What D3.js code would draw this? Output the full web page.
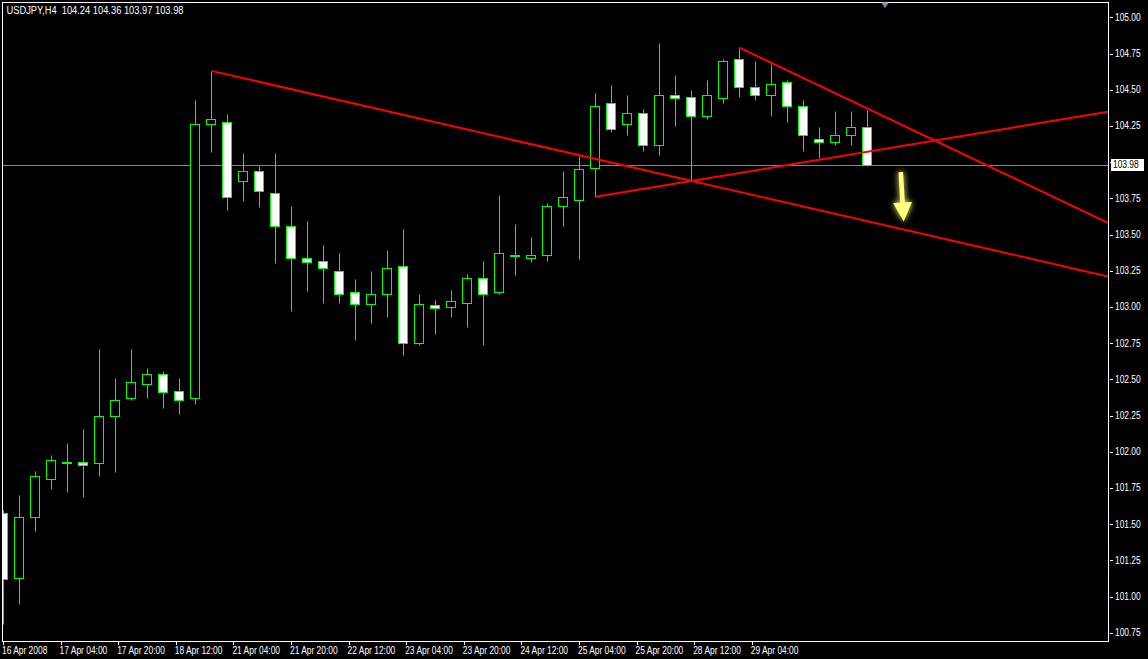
<!DOCTYPE html>
<html><head><meta charset="utf-8">
<script src="https://cdn.jsdelivr.net/npm/d3@7"></script>
<style>
html,body{margin:0;padding:0;background:#000;}
svg{display:block;}
text{font-family:"Liberation Sans","Arial",sans-serif;font-size:10px;fill:#fff;}
</style></head>
<body>
<script>
// ---- data ----
const symbolTitle = "USDJPY,H4  104.24 104.36 103.97 103.98";
const opens  = [101.58,101.13,101.55,101.81,101.93,101.93,101.92,102.25,102.37,102.47,102.54,102.42,102.37,104.26,104.28,103.87,103.94,103.79,103.56,103.34,103.32,103.25,103.10,103.02,103.09,103.28,102.75,103.01,103.00,103.03,103.20,103.10,103.36,103.34,103.36,103.70,103.74,103.96,104.41,104.26,104.34,104.12,104.46,104.45,104.32,104.44,104.71,104.52,104.46,104.55,104.39,104.16,104.14,104.19,104.24];
const highs  = [101.60,101.70,101.87,101.98,102.06,102.16,102.71,102.51,102.71,102.58,102.56,102.51,104.43,104.63,104.33,104.06,103.97,104.06,103.70,103.59,103.43,103.37,103.19,103.25,103.39,103.54,103.09,103.05,103.12,103.23,103.32,103.77,103.57,103.48,103.72,103.94,104.04,104.48,104.53,104.46,104.37,104.82,104.60,104.50,104.57,104.71,104.79,104.70,104.68,104.57,104.43,104.24,104.35,104.35,104.36];
const lows   = [100.81,100.95,101.45,101.74,101.72,101.69,101.83,101.86,102.36,102.37,102.30,102.26,102.33,104.07,103.67,103.73,103.69,103.30,102.97,103.11,103.03,103.03,102.77,102.89,102.93,102.67,102.74,102.81,102.93,102.86,102.74,103.09,103.22,103.31,103.32,103.56,103.33,103.76,104.21,104.19,104.08,104.05,104.25,103.87,104.30,104.41,104.45,104.43,104.32,104.28,104.08,104.03,104.12,104.12,103.97];
const closes = [101.12,101.55,101.83,101.94,101.93,101.91,102.25,102.36,102.48,102.54,102.41,102.36,104.26,104.30,103.76,103.94,103.80,103.56,103.34,103.31,103.27,103.09,103.02,103.09,103.27,102.75,103.02,102.99,103.04,103.20,103.09,103.37,103.36,103.36,103.70,103.76,103.95,104.39,104.23,104.34,104.12,104.46,104.44,104.32,104.46,104.70,104.52,104.46,104.54,104.39,104.19,104.14,104.19,104.24,103.98];
const bidPrice = 103.98;
const priceTicks = [100.75,101.00,101.25,101.50,101.75,102.00,102.25,102.50,102.75,103.00,103.25,103.50,103.75,104.00,104.25,104.50,104.75,105.00];
const timeLabels = ["16 Apr 2008","17 Apr 04:00","17 Apr 20:00","18 Apr 12:00","21 Apr 04:00","21 Apr 20:00","22 Apr 12:00","23 Apr 04:00","23 Apr 20:00","24 Apr 12:00","25 Apr 04:00","25 Apr 20:00","28 Apr 12:00","29 Apr 04:00"];
const timeLabelBarStep = 3.6; // bars between time labels
// trend lines: anchor bar index / price pairs (rays to the right)
const trendBar1   = [13, 37, 46];
const trendPrice1 = [104.63, 103.76, 104.79];
const trendBar2   = [43, 43, 54];
const trendPrice2 = [103.87, 103.87, 104.37];
// arrow annotation (bar index / price)
const arrowBars   = [56.08, 56.26];
const arrowPrices = [103.93, 103.59];

// ---- layout ----
const W = 1148, H = 659;
const plot = {l:2, r:1108, t:2, b:641};
const narrow = 0.84;     // horizontal squeeze of axis fonts
const titleWidth = 177;
const svg = d3.select("body").append("svg").attr("width",W).attr("height",H);
svg.append("rect").attr("width",W).attr("height",H).attr("fill","#000");

const x = d3.scaleLinear().domain([0, 54]).range([3.5, 867.5]);
const y = d3.scaleLinear().domain([100.75, 105]).range([632.7, 17.3]);
const cy = v => Math.round(y(v)) + 0.5;

function squeeze(sel, factor){
  sel.each(function(){
    const L = this.getComputedTextLength();
    d3.select(this).attr("textLength", L*factor).attr("lengthAdjust","spacingAndGlyphs");
  });
}

const defs = svg.append("defs");
defs.append("clipPath").attr("id","plotclip").append("rect")
  .attr("x",plot.l+1).attr("y",plot.t+1).attr("width",plot.r-plot.l-1).attr("height",plot.b-plot.t-1);
const glow = defs.append("filter").attr("id","glow").attr("x","-50%").attr("y","-50%").attr("width","200%").attr("height","200%");
glow.append("feGaussianBlur").attr("in","SourceGraphic").attr("stdDeviation",3).attr("result","b");
const fm = glow.append("feMerge");
fm.append("feMergeNode").attr("in","b");
fm.append("feMergeNode").attr("in","SourceGraphic");

const g = svg.append("g").attr("clip-path","url(#plotclip)");

// bid line
g.append("line").attr("x1",plot.l).attr("x2",plot.r).attr("y1",cy(bidPrice)).attr("y2",cy(bidPrice))
  .attr("stroke","#778899").attr("stroke-width",1);

// candles
const candles = d3.range(opens.length).map(i => ({i, o:opens[i], h:highs[i], l:lows[i], c:closes[i]}));
const cg = g.append("g");
cg.selectAll("line.wick").data(candles).join("line").attr("class","wick")
  .attr("x1",d=>x(d.i)).attr("x2",d=>x(d.i))
  .attr("y1",d=>cy(d.h)).attr("y2",d=>cy(d.l))
  .attr("stroke","#00ff00").attr("stroke-width",1);
cg.selectAll("rect.body").data(candles).join("rect").attr("class","body")
  .attr("x",d=>x(d.i)-5).attr("width",9)
  .attr("y",d=>cy(Math.max(d.o,d.c)))
  .attr("height",d=>Math.max(1, cy(Math.min(d.o,d.c)) - cy(Math.max(d.o,d.c))))
  .attr("fill",d=> d.c > d.o ? "#000" : (d.c < d.o ? "#fff" : "#00ff00"))
  .attr("stroke","#00ff00").attr("stroke-width",1);

// trend lines
const xEndBar = x.invert(plot.r);
trendBar1.forEach((b1,k)=>{
  const p1 = trendPrice1[k], b2 = trendBar2[k], p2 = trendPrice2[k];
  const slope = (p2-p1)/(b2-b1);
  const pEnd = p1 + slope*(xEndBar-b1);
  g.append("line").attr("x1",x(b1)).attr("y1",y(p1)).attr("x2",x(xEndBar)).attr("y2",y(pEnd))
    .attr("stroke","#ff0000").attr("stroke-width",2);
});

// arrow
{
  const x1 = x(arrowBars[0]), y1 = y(arrowPrices[0]), x2 = x(arrowBars[1]), y2 = y(arrowPrices[1]);
  const len = Math.hypot(x2-x1,y2-y1), ux=(x2-x1)/len, uy=(y2-y1)/len, px=-uy, py=ux;
  const head = 19, hw = 9.5, sw = 2.3;
  const bx = x2-ux*head, by = y2-uy*head;
  const pts = [
    [x1+px*sw,y1+py*sw],[bx+px*sw,by+py*sw],[bx+px*hw,by+py*hw],[x2,y2],
    [bx-px*hw,by-py*hw],[bx-px*sw,by-py*sw],[x1-px*sw,y1-py*sw]];
  g.append("path").attr("d","M"+pts.map(p=>p.join(",")).join("L")+"Z")
    .attr("fill","#ffff80").attr("filter","url(#glow)");
}

// frame
svg.append("rect").attr("x",plot.l+0.5).attr("y",plot.t+0.5).attr("width",plot.r-plot.l).attr("height",plot.b-plot.t)
  .attr("fill","none").attr("stroke","#fff").attr("stroke-width",1);

// shift marker
svg.append("path").attr("d","M881,2.5L889,2.5L885,8Z").attr("fill","#778899");

// right price axis
const ya = svg.append("g");
ya.selectAll("line").data(priceTicks).join("line")
  .attr("x1",plot.r+2).attr("x2",plot.r+5).attr("y1",d=>cy(d)).attr("y2",d=>cy(d))
  .attr("stroke","#fff");
const visibleTicks = priceTicks.filter(d => Math.abs(y(d)-y(bidPrice)) > 10);
ya.selectAll("text").data(visibleTicks).join("text")
  .attr("x",plot.r+7).attr("y",d=>y(d)).attr("dy","0.35em")
  .text(d=>d3.format(".2f")(d))
  .call(squeeze, narrow);

// bid label
svg.append("rect").attr("x",plot.r+3).attr("y",y(bidPrice)-6).attr("width",33).attr("height",12).attr("fill","#fff");
svg.append("text").attr("x",plot.r+5).attr("y",y(bidPrice)).attr("dy","0.35em").style("fill","#000")
  .text(d3.format(".2f")(bidPrice)).call(squeeze, narrow);

// time axis
const xa = svg.append("g");
const tb = timeLabels.map((t,k)=>({t, b:k*timeLabelBarStep}));
xa.selectAll("line").data(tb).join("line")
  .attr("x1",d=>Math.round(x(d.b)-0.5)+0.5).attr("x2",d=>Math.round(x(d.b)-0.5)+0.5)
  .attr("y1",plot.b).attr("y2",plot.b+4).attr("stroke","#fff");
xa.selectAll("text").data(tb).join("text")
  .attr("x",d=>x(d.b)-1.5).attr("y",654).text(d=>d.t)
  .call(squeeze, narrow);

// title
svg.append("text").attr("x",6.5).attr("y",13.5).style("white-space","pre").attr("xml:space","preserve")
  .text(symbolTitle).attr("textLength",titleWidth).attr("lengthAdjust","spacingAndGlyphs");
</script>
</body></html>
